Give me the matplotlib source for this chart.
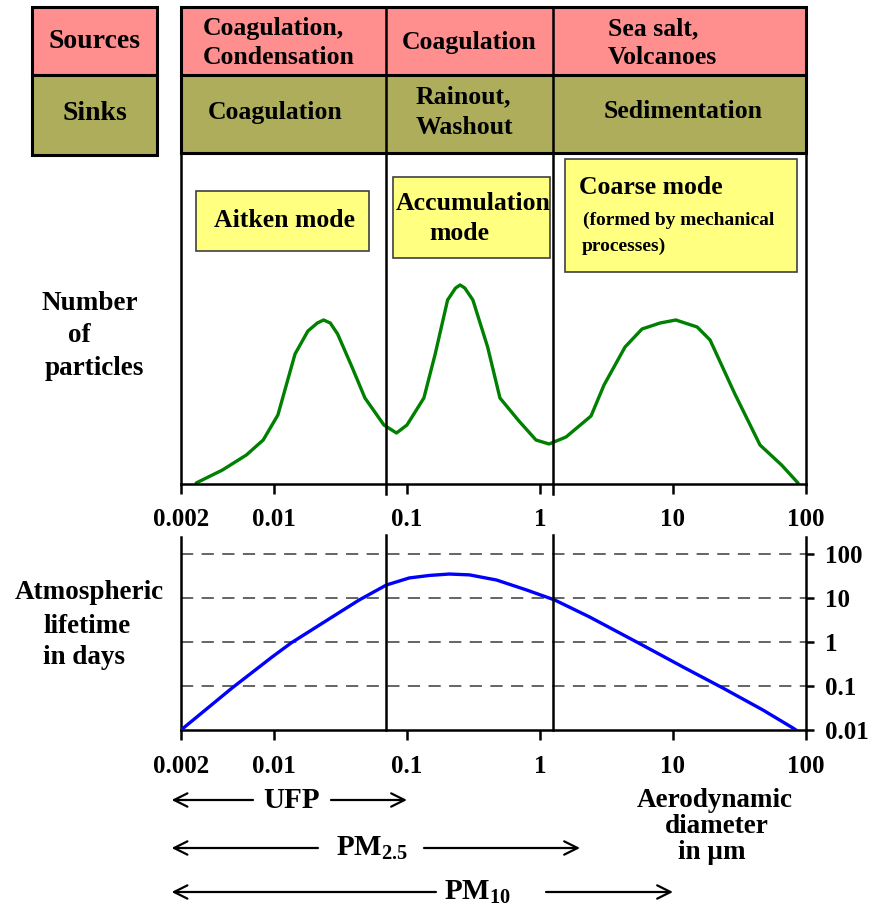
import numpy as np
import matplotlib
matplotlib.use('Agg')
import matplotlib.pyplot as plt
from matplotlib.patches import Rectangle
from matplotlib.ticker import NullLocator, FixedLocator, FixedFormatter

plt.rcParams['font.family'] = ['Liberation Serif', 'DejaVu Serif']
plt.rcParams['font.weight'] = 'bold'
plt.rcParams['mathtext.fontset'] = 'custom'
plt.rcParams['mathtext.rm'] = 'Liberation Serif:bold'
plt.rcParams['mathtext.it'] = 'Liberation Serif:bold'
plt.rcParams['mathtext.bf'] = 'Liberation Serif:bold'

# ---------------- data ----------------
diam_number = [0.0026, 0.0041, 0.0062, 0.0083, 0.0107, 0.0144, 0.018, 0.0212, 0.0236,
               0.0265, 0.0301, 0.0386, 0.0483, 0.0671, 0.0834, 0.100, 0.134, 0.163,
               0.202, 0.232, 0.251, 0.272, 0.313, 0.404, 0.500, 0.695, 0.933, 1.17,
               1.57, 2.42, 3.03, 4.36, 5.85, 8.0, 10.5, 15.2, 19.0, 29.2, 45.1, 65.5, 87.1]
number = [1, 14, 29, 44, 69, 130, 153, 161, 164,
          161, 150, 117, 86, 59, 51, 59, 86, 130,
          184, 196, 199, 196, 184, 137, 86, 63, 44, 40,
          47, 68, 99, 137, 155, 161, 164, 157, 144, 90, 39, 19, 1]

diam_life = [0.002, 0.00484, 0.00968, 0.01345, 0.0274, 0.0437, 0.070, 0.104, 0.147,
             0.208, 0.295, 0.471, 0.793, 1.29, 2.36, 5.33, 11.9, 23.7, 47.4, 79.8, 84.0]
lifetime = [0.01, 0.09, 0.456, 0.95, 3.7, 9.0, 19.7, 28.5, 32.5,
            35.0, 33.5, 25.6, 15.2, 9.0, 3.7, 1.0, 0.27, 0.09, 0.0285, 0.0111, 0.01]

x_ticks = [0.002, 0.01, 0.1, 1, 10, 100]
x_labels = ['0.002', '0.01', '0.1', '1', '10', '100']
life_ticks = [0.01, 0.1, 1, 10, 100]
life_labels = ['0.01', '0.1', '1', '10', '100']
mode_bounds = [0.07, 1.25]

sources = [['Coagulation,', 'Condensation'], ['Coagulation'], ['Sea salt,', 'Volcanoes']]
sinks = [['Coagulation'], ['Rainout,', 'Washout'], ['Sedimentation']]

size_classes = ['UFP', 'PM$_{2.5}$', 'PM$_{10}$']
size_upper = [0.1, 2.0, 10.0]
size_lower = 0.0017

PINK = '#FF8E8E'
OLIVE = '#ADAD5B'
YELLOW = '#FFFF80'

W, H = 874, 905
fig = plt.figure(figsize=(W / 100, H / 100), dpi=100)

TICKFS = 18

# ---------------- upper chart: number distribution ----------------
ax_top = fig.add_axes([181 / W, 1 - 484 / H, 625 / W, 331 / H])
ax_top.set_xscale('log')
ax_top.set_xlim(0.002, 100)
ax_top.set_ylim(0, 331)
ax_top.plot(diam_number, number, color='#008000', lw=2.4, solid_joinstyle='round',
            solid_capstyle='round')
ax_top.spines['top'].set_visible(False)
for s in ['left', 'right', 'bottom']:
    ax_top.spines[s].set_linewidth(1.8)
ax_top.set_yticks([])
ax_top.xaxis.set_major_locator(FixedLocator(x_ticks))
ax_top.xaxis.set_major_formatter(FixedFormatter(x_labels))
ax_top.xaxis.set_minor_locator(NullLocator())
ax_top.tick_params(axis='x', direction='out', length=7, width=1.8, pad=10, labelsize=TICKFS)
ax_top.patch.set_alpha(0)

# ---------------- lower chart: atmospheric lifetime ----------------
ax_bot = fig.add_axes([181 / W, 1 - 730 / H, 625 / W, 193 / H])
ax_bot.set_xscale('log')
ax_bot.set_yscale('log')
ax_bot.set_xlim(0.002, 100)
ax_bot.set_ylim(0.01, 243)
for v in life_ticks[1:]:
    ax_bot.axhline(v, color='#3a3a3a', lw=1.1, ls=(0, (8, 5.5)), zorder=1)
ax_bot.plot(diam_life, lifetime, color='#0000FF', lw=2.4, zorder=3)
ax_bot.spines['top'].set_visible(False)
for s in ['left', 'right', 'bottom']:
    ax_bot.spines[s].set_linewidth(1.8)
ax_bot.xaxis.set_major_locator(FixedLocator(x_ticks))
ax_bot.xaxis.set_major_formatter(FixedFormatter(x_labels))
ax_bot.xaxis.set_minor_locator(NullLocator())
ax_bot.yaxis.tick_right()
ax_bot.yaxis.set_major_locator(FixedLocator(life_ticks))
ax_bot.yaxis.set_major_formatter(FixedFormatter(life_labels))
ax_bot.yaxis.set_minor_locator(NullLocator())
ax_bot.tick_params(axis='x', direction='out', length=7, width=1.8, pad=11, labelsize=TICKFS)
ax_bot.tick_params(axis='y', direction='out', length=6, width=1.8, pad=8, labelsize=TICKFS)
ax_bot.patch.set_alpha(0)

# ---------------- overlay in pixel coordinates ----------------
ax_ov = fig.add_axes([0, 0, 1, 1], zorder=5)
ax_ov.set_xlim(0, W)
ax_ov.set_ylim(H, 0)
ax_ov.axis('off')
ax_ov.patch.set_alpha(0)


def xpix(ax, v):
    return ax.transData.transform((v, 1))[0]


X0 = xpix(ax_top, 0.002)
X1 = xpix(ax_top, 100)
B = [xpix(ax_top, b) for b in mode_bounds]

T0, T1, T2 = 7, 75, 153
BLW = 2.2

# left label boxes
ax_ov.add_patch(Rectangle((32, T0), 125, T1 - T0, fc=PINK, ec='black', lw=BLW))
ax_ov.add_patch(Rectangle((32, T1), 125, 80, fc=OLIVE, ec='black', lw=BLW))
ax_ov.text(94, 42, 'Sources', ha='center', va='center', fontsize=20)
ax_ov.text(95, 113, 'Sinks', ha='center', va='center', fontsize=20)

# table rows
ax_ov.add_patch(Rectangle((X0, T0), X1 - X0, T1 - T0, fc=PINK, ec='none'))
ax_ov.add_patch(Rectangle((X0, T1), X1 - X0, T2 - T1, fc=OLIVE, ec='none'))
ax_ov.plot([X0, X1, X1, X0, X0], [T2, T2, T0, T0, T2], color='black', lw=BLW,
           solid_joinstyle='miter')
ax_ov.plot([X0, X1], [T1, T1], color='black', lw=BLW)
for b in B:
    ax_ov.plot([b, b], [T0, 494], color='black', lw=1.8)
    ax_ov.plot([b, b], [535, 730], color='black', lw=1.8)

# table text
src_pos = [(203, 'left', [28, 58]), (469, 'center', [43]), (608, 'left', [29, 57])]
snk_pos = [(275, 'center', [113]), (416, 'left', [97, 127]), (683, 'center', [112])]
for lines, (x, ha, ys) in zip(sources, src_pos):
    for ln, y in zip(lines, ys):
        ax_ov.text(x, y, ln, ha=ha, va='center', fontsize=18.5)
for lines, (x, ha, ys) in zip(sinks, snk_pos):
    for ln, y in zip(lines, ys):
        ax_ov.text(x, y, ln, ha=ha, va='center', fontsize=18.5)

# mode boxes
ax_ov.add_patch(Rectangle((196, 191), 173, 60, fc=YELLOW, ec='#404040', lw=1.2))
ax_ov.text(284, 220, 'Aitken mode', ha='center', va='center', fontsize=18.5)
ax_ov.add_patch(Rectangle((393, 177), 157, 81, fc=YELLOW, ec='#404040', lw=1.2))
ax_ov.text(473, 203, 'Accumulation', ha='center', va='center', fontsize=18.5)
ax_ov.text(459, 233, 'mode', ha='center', va='center', fontsize=18.5)
ax_ov.add_patch(Rectangle((565, 159), 232, 113, fc=YELLOW, ec='#404040', lw=1.2))
ax_ov.text(579, 188, 'Coarse mode', ha='left', va='center', fontsize=18.5)
ax_ov.text(583, 220, '(formed by mechanical', ha='left', va='center', fontsize=14)
ax_ov.text(582, 246, 'processes)', ha='left', va='center', fontsize=14)

# axis captions
ax_ov.text(42, 303, 'Number', ha='left', va='center', fontsize=19.5)
ax_ov.text(68, 335, 'of', ha='left', va='center', fontsize=19.5)
ax_ov.text(45, 368, 'particles', ha='left', va='center', fontsize=19.5)
ax_ov.text(89, 592, 'Atmospheric', ha='center', va='center', fontsize=19.5)
ax_ov.text(87, 626, 'lifetime', ha='center', va='center', fontsize=19.5)
ax_ov.text(84, 657, 'in days', ha='center', va='center', fontsize=19.5)

ax_ov.text(715, 800, 'Aerodynamic', ha='center', va='center', fontsize=19.5)
ax_ov.text(717, 826, 'diameter', ha='center', va='center', fontsize=19.5)
ax_ov.text(712, 852, 'in \u00b5m', ha='center', va='center', fontsize=19.5)

# size-class arrows
arrow_y = [800, 848, 892]
label_x = [292, 372, 478]
gaps = [(253, 331), (318, 424), (436, 546)]
for name, up, y, lx, (g0, g1) in zip(size_classes, size_upper, arrow_y, label_x, gaps):
    xl = xpix(ax_bot, size_lower)
    xr = xpix(ax_bot, up)
    ax_ov.text(lx, y, name, ha='center', va='center', fontsize=21)
    ap = dict(arrowstyle='->', lw=1.6, color='black', mutation_scale=24,
              shrinkA=0, shrinkB=0)
    ax_ov.annotate('', xy=(xl, y), xytext=(g0, y), arrowprops=ap)
    ax_ov.annotate('', xy=(xr, y), xytext=(g1, y), arrowprops=ap)

fig.savefig('out.png', dpi=100)
